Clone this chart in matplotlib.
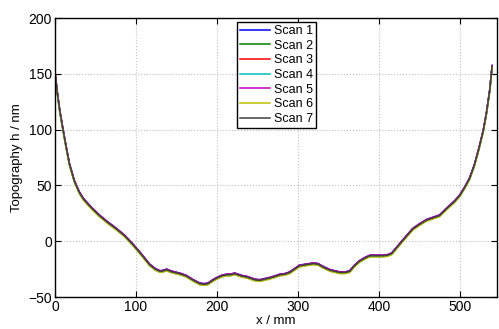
import matplotlib
matplotlib.use("Agg")
import matplotlib.pyplot as plt

# profile (x in mm, h in nm)
x_mm = [0, 3, 6, 10, 14, 18, 24, 30, 35, 45, 55, 65, 76, 86, 97, 107, 117, 124, 130, 134,
        138, 143, 148, 154, 162, 171, 179, 184, 189, 195, 200, 206, 212, 217, 222, 230, 237,
        241, 247, 253, 259, 265, 272, 278, 284, 290, 296, 302, 310, 319, 325, 331, 340, 352,
        358, 364, 370, 376, 383, 389, 397, 405, 411, 416, 423, 430, 436, 442, 450, 459, 467,
        475, 482, 488, 494, 500, 506, 512, 518, 524, 529, 533, 537, 540]
h_nm = [152, 133, 117, 100, 84, 69, 54, 44, 38, 30, 23, 17, 11, 5, -3.5, -12, -21, -25, -27, -26.5,
        -25.5, -27, -28, -29, -31, -35, -38, -38.5, -38, -35, -33, -31, -30, -30, -29, -31, -32,
        -33, -34.5, -35, -34, -33, -31.5, -30, -29.5, -28, -25, -22, -21, -20, -20.5, -23, -26, -28,
        -28, -27, -22, -18, -15, -13, -13, -13, -12.5, -11, -5, 1, 6, 11, 15, 19, 21,
        23, 28, 32, 36, 41, 48, 56, 68, 84, 99, 115, 135, 157]

scan_labels = ["Scan 1", "Scan 2", "Scan 3", "Scan 4", "Scan 5", "Scan 6", "Scan 7"]
scan_shift = [0.6, -0.4, 0.3, -0.7, 0.5, -1.0, 0.0]
scan_colors = ["#0000ff", "#008000", "#ff0000", "#00bfbf", "#bf00bf", "#bfbf00", "#404040"]

plt.rcParams["font.family"] = ["Liberation Sans", "DejaVu Sans"]

fig = plt.figure(figsize=(4.99, 3.29), dpi=100)
ax = fig.add_axes([0.110, 0.097, 0.886, 0.848])

for lab, dh, col in zip(scan_labels, scan_shift, scan_colors):
    ax.plot(x_mm, [h + dh for h in h_nm], color=col, lw=1.1, label=lab)

ax.set_xlim(0, 546)
ax.set_ylim(-50, 200)
ax.set_xticks([0, 100, 200, 300, 400, 500])
ax.set_yticks([-50, 0, 50, 100, 150, 200])
ax.grid(True, ls=":", color="#c0c0c0", lw=0.8)
ax.tick_params(direction="in", top=True, right=True, length=4, labelsize=10, pad=2)
for s in ax.spines.values():
    s.set_linewidth(1.0)

ax.set_xlabel("x / mm", fontsize=9.5, labelpad=1)
ax.set_ylabel("Topography h / nm", fontsize=9.5, labelpad=4)

leg = ax.legend(loc="upper left", bbox_to_anchor=(0.412, 0.986), fontsize=9,
                frameon=True, fancybox=False, edgecolor="black", framealpha=1,
                handlelength=2.4, handletextpad=0.3, labelspacing=0.21, borderpad=0.25,
                borderaxespad=0)
leg.get_frame().set_linewidth(1.0)

fig.savefig("out.png", dpi=100)
